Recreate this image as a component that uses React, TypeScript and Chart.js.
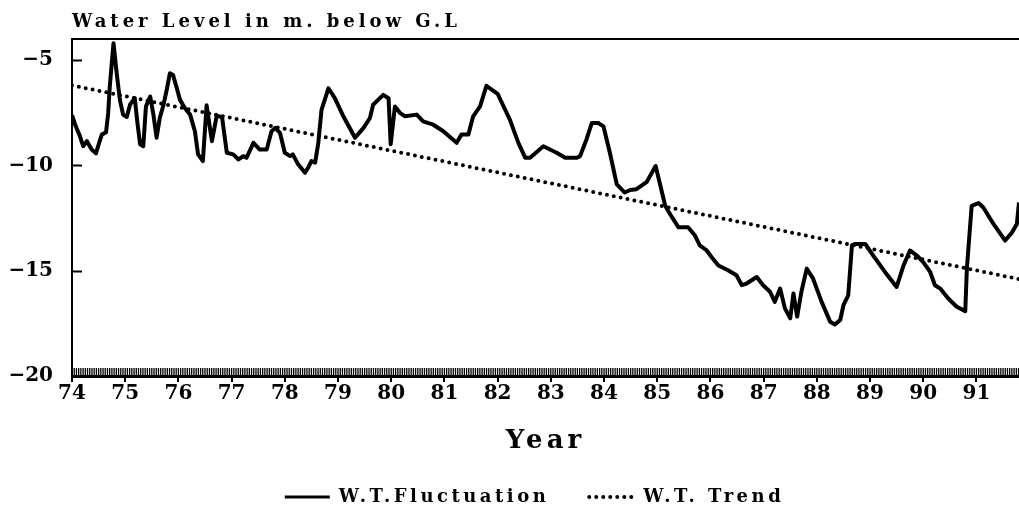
import { useEffect, useRef } from 'react';
import { Chart, registerables } from 'chart.js';

Chart.register(...registerables);

// ---- data ----
const years = [
  74.00, 74.06, 74.15, 74.21, 74.28, 74.37, 74.45, 74.51, 74.56, 74.64, 74.68, 74.71, 74.78, 74.84, 74.90, 74.96,
  75.03, 75.09, 75.18, 75.23, 75.28, 75.34, 75.39, 75.47, 75.53, 75.59, 75.65, 75.72, 75.78, 75.84, 75.90, 75.97,
  76.03, 76.12, 76.22, 76.31, 76.37, 76.46, 76.53, 76.63, 76.72, 76.82, 76.91,
  77.03, 77.13, 77.22, 77.28, 77.41, 77.53, 77.66, 77.75, 77.82, 77.91,
  78.00, 78.10, 78.15, 78.25, 78.38, 78.44, 78.50, 78.57, 78.63, 78.69, 78.82, 78.94,
  79.10, 79.32, 79.48, 79.60, 79.66, 79.85, 79.95, 79.99,
  80.07, 80.17, 80.26, 80.48, 80.60, 80.79, 80.98,
  81.23, 81.32, 81.45, 81.54, 81.67, 81.79,
  82.00, 82.23, 82.39, 82.52, 82.61, 82.86,
  83.11, 83.27, 83.49, 83.55, 83.67, 83.77, 83.89, 83.99,
  84.11, 84.24, 84.39, 84.49, 84.61, 84.80, 84.97,
  85.15, 85.24, 85.40, 85.58, 85.71, 85.80, 85.93,
  86.02, 86.15, 86.33, 86.49, 86.59, 86.68, 86.87, 86.99,
  87.12, 87.21, 87.31, 87.40, 87.50, 87.56, 87.63, 87.71, 87.81, 87.93,
  88.09, 88.25, 88.34, 88.44, 88.50, 88.59, 88.66, 88.72, 88.91,
  89.06, 89.28, 89.50, 89.63, 89.75, 89.88,
  90.00, 90.13, 90.22, 90.32, 90.47, 90.63, 90.79, 90.82, 90.91,
  91.04, 91.13, 91.32, 91.54, 91.67, 91.76, 91.80,
];

const waterLevel = [
  -7.62, -8.07, -8.62, -9.09, -8.85, -9.25, -9.43, -8.93, -8.54, -8.43, -7.52, -6.26, -4.20, -5.63, -6.89, -7.59,
  -7.70, -7.12, -6.81, -7.99, -9.00, -9.09, -7.20, -6.73, -7.59, -8.69, -7.75, -7.12, -6.42, -5.63, -5.71, -6.34,
  -6.89, -7.28, -7.59, -8.38, -9.48, -9.80, -7.15, -8.85, -7.65, -7.70, -9.40,
  -9.48, -9.72, -9.56, -9.64, -8.93, -9.25, -9.25, -8.38, -8.22, -8.46,
  -9.40, -9.56, -9.48, -9.95, -10.35, -10.10, -9.80, -9.87, -8.93, -7.36, -6.34, -6.81,
  -7.67, -8.69, -8.22, -7.75, -7.12, -6.65, -6.81, -9.00,
  -7.20, -7.52, -7.67, -7.59, -7.91, -8.07, -8.38,
  -8.93, -8.54, -8.54, -7.67, -7.20, -6.22,
  -6.60, -7.83, -8.93, -9.64, -9.64, -9.09,
  -9.40, -9.64, -9.64, -9.56, -8.77, -7.99, -7.99, -8.15,
  -9.40, -10.90, -11.29, -11.17, -11.13, -10.80, -10.03,
  -11.92, -12.31, -12.94, -12.94, -13.33, -13.80, -14.04,
  -14.35, -14.75, -14.98, -15.22, -15.69, -15.61, -15.30, -15.69,
  -16.00, -16.48, -15.85, -16.79, -17.26, -16.08, -17.18, -16.00, -14.90, -15.38,
  -16.48, -17.42, -17.55, -17.34, -16.64, -16.17, -13.80, -13.73, -13.73,
  -14.28, -15.06, -15.77, -14.75, -14.04, -14.28,
  -14.59, -15.06, -15.69, -15.85, -16.32, -16.71, -16.92, -14.90, -11.92,
  -11.79, -12.00, -12.78, -13.57, -13.18, -12.78, -11.76,
];

const trendYears = [74, 91.8];
const trendLevel = [-6.2, -15.4];

const xTickValues = [74, 75, 76, 77, 78, 79, 80, 81, 82, 83, 84, 85, 86, 87, 88, 89, 90, 91];
const yTickValues = [-20, -15, -10, -5];
const xMin = 74;
const xMax = 91.8;
const yMin = -20;
const yMax = -4;
const minorTicksPerYear = 24;

const chartTitle = 'Water Level in m. below G.L';
const xAxisTitle = 'Year';
const seriesNames = ['W.T.Fluctuation', 'W.T. Trend'];

// ---- styling ----
const FONT_FAMILY = '"DejaVu Serif", "Liberation Serif", serif';
const INK = '#000000';
const LEGEND_FONT_SIZE = 18;
const LEGEND_PADDING = 40;
const LEGEND_CENTER_Y = 497;
const LEGEND_SHIFT_X = 25;

export default function App() {
  const canvasRef = useRef<HTMLCanvasElement>(null);

  useEffect(() => {
    const canvas = canvasRef.current;
    if (!canvas) return;

    const withSpacing = (ctx: any, spacing: string, fn: () => void) => {
      const prev = ctx.letterSpacing;
      ctx.letterSpacing = spacing;
      try {
        fn();
      } finally {
        ctx.letterSpacing = prev === undefined ? '0px' : prev;
      }
    };

    const decorations = {
      id: 'decorations',
      beforeInit(chart: any) {
        const lg = chart.legend;
        if (lg && !lg.__spaced) {
          const fit0 = lg.fit.bind(lg);
          const draw0 = lg.draw.bind(lg);
          lg.fit = () => withSpacing(chart.ctx, '3.5px', fit0);
          lg.draw = (area: any) => withSpacing(chart.ctx, '3.5px', () => draw0(area));
          lg.__spaced = true;
        }
      },
      afterLayout(chart: any) {
        const lg = chart.legend;
        if (lg) {
          const dy = LEGEND_CENTER_Y - (lg.top + LEGEND_PADDING + LEGEND_FONT_SIZE / 2);
          lg.top += dy;
          lg.bottom = chart.height;
          lg.height = lg.bottom - lg.top;
          lg.left += LEGEND_SHIFT_X;
          lg.right += LEGEND_SHIFT_X;
        }
        const xs = chart.scales.x;
        if (xs && !xs.__spaced) {
          const dt = xs.drawTitle.bind(xs);
          xs.drawTitle = () => withSpacing(chart.ctx, '4px', dt);
          xs.__spaced = true;
        }
      },
      afterDraw(chart: any) {
        const { ctx, chartArea } = chart;
        const xs = chart.scales.x;
        const ys = chart.scales.y;
        ctx.save();
        ctx.strokeStyle = INK;
        // top frame line
        ctx.lineWidth = 2;
        ctx.beginPath();
        ctx.moveTo(chartArea.left, chartArea.top);
        ctx.lineTo(chartArea.right, chartArea.top);
        ctx.stroke();
        // inward y ticks
        ctx.lineWidth = 2;
        for (const v of yTickValues) {
          const y = Math.round(ys.getPixelForValue(v)) + 0.5;
          ctx.beginPath();
          ctx.moveTo(chartArea.left, y);
          ctx.lineTo(chartArea.left + 10, y);
          ctx.stroke();
        }
        // dense minor ticks along the bottom axis
        ctx.lineWidth = 1.3;
        for (let m = 0; xMin + m / minorTicksPerYear <= xMax + 1e-9; m++) {
          const x = xs.getPixelForValue(xMin + m / minorTicksPerYear);
          ctx.beginPath();
          ctx.moveTo(x, chartArea.bottom);
          ctx.lineTo(x, chartArea.bottom - 8);
          ctx.stroke();
        }
        // chart title
        ctx.fillStyle = INK;
        ctx.font = `bold 18px ${FONT_FAMILY}`;
        ctx.textAlign = 'left';
        ctx.textBaseline = 'alphabetic';
        (ctx as any).letterSpacing = '4px';
        ctx.fillText(chartTitle, chartArea.left, 27);
        ctx.restore();
      },
    };

    const chart = new Chart(canvas, {
      type: 'line',
      data: {
        datasets: [
          {
            label: seriesNames[0],
            data: years.map((x, i) => ({ x, y: waterLevel[i] })),
            borderColor: INK,
            backgroundColor: INK,
            borderWidth: 4,
            borderJoinStyle: 'round',
            borderCapStyle: 'butt',
            pointRadius: 0,
            tension: 0,
          },
          {
            label: seriesNames[1],
            data: trendYears.map((x, i) => ({ x, y: trendLevel[i] })),
            borderColor: INK,
            backgroundColor: INK,
            borderWidth: 4,
            borderDash: [0, 7],
            borderCapStyle: 'round',
            pointRadius: 0,
            tension: 0,
          },
        ],
      },
      options: {
        responsive: false,
        animation: false,
        devicePixelRatio: 1,
        layout: { padding: { top: 39, left: 0, right: 0, bottom: 0 } },
        plugins: {
          title: { display: false },
          tooltip: { enabled: false },
          legend: {
            display: true,
            position: 'bottom',
            maxHeight: 30,
            labels: {
              usePointStyle: true,
              pointStyle: 'line',
              pointStyleWidth: 45,
              padding: LEGEND_PADDING,
              color: INK,
              font: { family: FONT_FAMILY, size: LEGEND_FONT_SIZE, weight: 'bold' },
              generateLabels: (ch: any) => {
                const base = (Chart.defaults as any).plugins.legend.labels.generateLabels(ch);
                return base.map((item: any) => {
                  const ds: any = ch.data.datasets[item.datasetIndex];
                  const dashed = Array.isArray(ds.borderDash) && ds.borderDash.length > 0;
                  return {
                    ...item,
                    pointStyle: 'line',
                    lineDash: dashed ? ds.borderDash : [],
                    lineCap: dashed ? 'round' : 'butt',
                    lineWidth: dashed ? 4 : 3,
                    strokeStyle: INK,
                    fillStyle: INK,
                    fontColor: INK,
                  };
                });
              },
            },
          },
        },
        scales: {
          x: {
            type: 'linear',
            min: xMin,
            max: xMax,
            afterBuildTicks: (s: any) => {
              s.ticks = xTickValues.map((v) => ({ value: v }));
            },
            afterFit: (s: any) => {
              s.height = 103;
            },
            grid: { display: true, drawOnChartArea: false, drawTicks: true, tickLength: 6, lineWidth: 2, color: INK },
            border: { display: true, width: 3, color: INK },
            ticks: {
              autoSkip: false,
              maxRotation: 0,
              padding: 0,
              color: INK,
              font: { family: FONT_FAMILY, size: 20, weight: 'bold' },
              callback: (v: any) => String(v),
            },
            title: {
              display: true,
              text: xAxisTitle,
              color: INK,
              font: { family: FONT_FAMILY, size: 26, weight: 'bold' },
              padding: { top: 0, bottom: 22 },
            },
          },
          y: {
            type: 'linear',
            min: yMin,
            max: yMax,
            afterBuildTicks: (s: any) => {
              s.ticks = yTickValues.map((v) => ({ value: v }));
            },
            afterFit: (s: any) => {
              s.width = 72;
            },
            grid: { display: false, drawTicks: false },
            border: { display: true, width: 2, color: INK },
            ticks: {
              padding: 19,
              color: INK,
              font: { family: FONT_FAMILY, size: 20, weight: 'bold' },
              callback: (v: any) => (Number(v) < 0 ? '\u2212' + Math.abs(Number(v)) : String(v)),
            },
          },
        },
      },
      plugins: [decorations],
    } as any);

    return () => chart.destroy();
  }, []);

  return (
    <div style={{ position: 'fixed', left: 0, top: 0, width: 1019, height: 509, background: '#ffffff' }}>
      <canvas ref={canvasRef} width={1019} height={509} style={{ display: 'block' }} />
    </div>
  );
}
